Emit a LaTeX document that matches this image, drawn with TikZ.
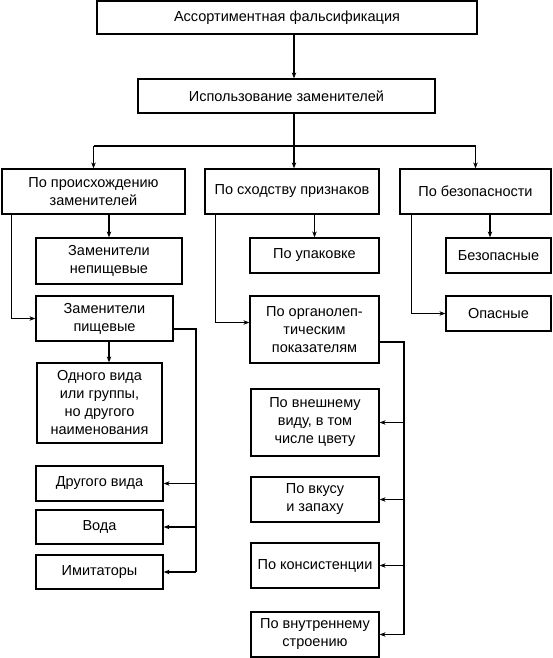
\documentclass[tikz,border=0pt]{standalone}
\usepackage{fontspec}
\setmainfont{Liberation Sans}
\usetikzlibrary{arrows.meta}

\begin{document}
\begin{tikzpicture}[x=1pt, y=-1pt, >={Stealth[length=6pt,width=4.5pt]},
	box/.style={draw, line width=1.2pt, align=center, inner sep=2pt, font=\fontsize{14.5}{18}\selectfont},
	line/.style={line width=1.2pt}]
 \useasboundingbox (0,0) rectangle (552,658);

 \node[box, minimum width=380pt, minimum height=33pt] (top) at (287,17.5) {Ассортиментная фальсификация};
 \node[box, minimum width=297pt, minimum height=34pt] (use) at (286.5,96) {Использование заменителей};

 \node[box, minimum width=183pt, minimum height=45pt] (orig) at (93.5,191.5) {По происхождению\\заменителей};
 \node[box, minimum width=174pt, minimum height=45pt] (sim) at (292,191.5) {По сходству признаков};
 \node[box, minimum width=151pt, minimum height=45pt] (safe) at (475.5,191.5) {По безопасности};

 \node[box, minimum width=146pt, minimum height=46pt] (nonfood) at (109,261) {Заменители\\непищевые};
 \node[box, minimum width=137pt, minimum height=45pt] (food) at (104.5,318.5) {Заменители\\пищевые};
 \node[box, minimum width=125pt, minimum height=80pt] (onekind) at (99.5,403) {Одного вида\\или группы,\\но другого\\наименования};
 \node[box, minimum width=127pt, minimum height=35pt] (other) at (99.5,483.5) {Другого вида};
 \node[box, minimum width=127pt, minimum height=34pt] (water) at (99.5,527) {Вода};
 \node[box, minimum width=127pt, minimum height=34pt] (imit) at (99.5,572) {Имитаторы};

 \node[box, minimum width=129pt, minimum height=35pt] (pack) at (314.5,255.5) {По упаковке};
 \node[box, minimum width=129pt, minimum height=67pt] (organo) at (314.5,329.5) {По органолеп-\\тическим\\показателям};
 \node[box, minimum width=128pt, minimum height=67pt] (look) at (315,422.5) {По внешнему\\виду, в том\\числе цвету};
 \node[box, minimum width=128pt, minimum height=45pt] (taste) at (315,499.5) {По вкусу\\и запаху};
 \node[box, minimum width=128pt, minimum height=45pt] (cons) at (315,565.5) {По консистенции};
 \node[box, minimum width=128pt, minimum height=45pt] (inner) at (315,634.5) {По внутреннему\\строению};

 \node[box, minimum width=105pt, minimum height=35pt] (safeok) at (498.5,255.5) {Безопасные};
 \node[box, minimum width=105pt, minimum height=35pt] (danger) at (498.5,313.5) {Опасные};

 \coordinate (bus) at (294,146);
 \coordinate (fr) at (196,329);
 \coordinate (or) at (404,342);
 \coordinate (sd) at (490,214);

 \draw[line, ->] (top.south -| bus) -- (use.north -| bus);
 \draw[line] (use.south -| bus) -- (bus);
 \draw[line] (bus -| orig) -- (bus -| safe);
 \draw[line, ->] (bus -| orig) -- (orig.north);
 \draw[line, ->] (bus) -- (sim.north -| bus);
 \draw[line, ->] (bus -| safe) -- (safe.north);

 \draw[line, ->] (orig.south -| nonfood) -- (nonfood.north);
 \draw[line, ->] ([xshift=10pt]orig.south west) |- (food.west);
 \draw[line, ->] (food.south -| nonfood) -- (onekind.north -| nonfood);
 \draw[line] (food.east |- fr) -- (fr) -- (fr |- imit);
 \foreach \n in {other,water,imit}
 	\draw[line, ->] (fr |- \n) -- (\n.east);

 \draw[line, ->] (sim.south -| pack) -- (pack.north);
 \draw[line, ->] ([xshift=11pt]sim.south west) |- ([yshift=7pt]organo.west);
 \draw[line] (organo.east |- or) -- (or) -- (or |- inner);
 \foreach \n in {look,taste,cons,inner}
 	\draw[line, ->] (or |- \n) -- (\n.east);

 \draw[line, ->] (sd) -- (sd |- safeok.north);
 \draw[line, ->] ([xshift=12pt]safe.south west) |- (danger.west);
\end{tikzpicture}
\end{document}
